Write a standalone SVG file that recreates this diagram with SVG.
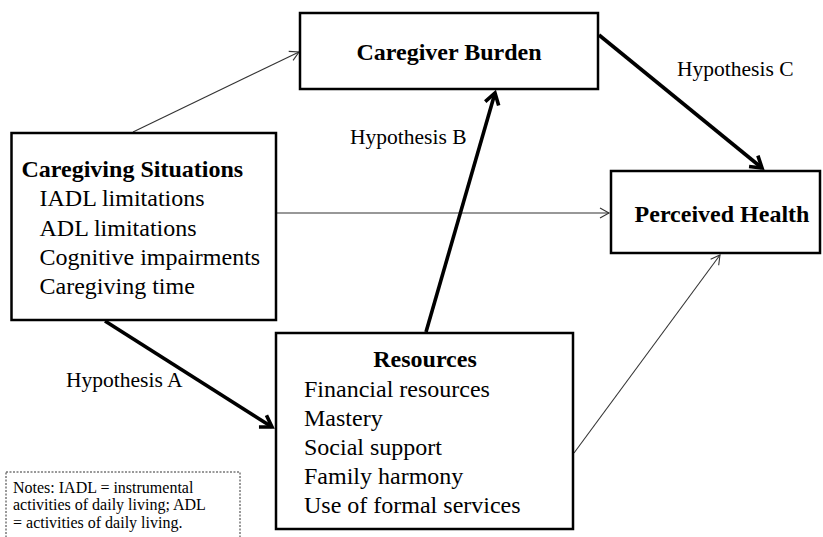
<svg xmlns="http://www.w3.org/2000/svg" width="823" height="537" viewBox="0 0 823 537">
<style>
.box{fill:#fff;stroke:#000;stroke-width:2.5}
text{font-family:'Liberation Serif','Times New Roman',serif;fill:#000}
.t{font-size:24px}
.b{font-weight:bold}
.h{font-size:21.5px}
.n{font-size:16px}
.thin{stroke:#333;stroke-width:1.1;fill:none;marker-end:url(#ah)}
.thick{stroke:#000;stroke-width:3.6;fill:none;marker-end:url(#ahb)}
</style>
<defs>
<marker id="ah" markerUnits="userSpaceOnUse" viewBox="-12 -8 14 16" markerWidth="14" markerHeight="16" refX="0" refY="0" orient="auto">
<path d="M-9,-5 L0,0 L-9,5" fill="none" stroke="#333" stroke-width="1.1"/>
</marker>
<marker id="ahb" markerUnits="userSpaceOnUse" viewBox="-14 -10 18 20" markerWidth="18" markerHeight="20" refX="0" refY="0" orient="auto">
<path d="M-11,-7 L0,0 L-11,7" fill="none" stroke="#000" stroke-width="3.6" stroke-linejoin="miter"/>
</marker>
</defs>
<g id="connectors">
<line class="thin" x1="133" y1="132" x2="299" y2="52"/>
<line class="thin" x1="277" y1="213" x2="609" y2="213"/>
<line class="thin" x1="574" y1="453" x2="720" y2="255"/>
<line class="thick" x1="105" y1="321" x2="272" y2="427"/>
<line class="thick" x1="426" y1="332" x2="495" y2="93"/>
<line class="thick" x1="599" y1="35" x2="762" y2="168"/>
</g>
<g id="caregiving-situations">
<rect class="box" x="11.5" y="133" width="264.5" height="187"/>
<text class="t b" x="21.5" y="176.5">Caregiving Situations</text>
<text class="t" x="39.5" y="206">IADL limitations</text>
<text class="t" x="39.5" y="235.5">ADL limitations</text>
<text class="t" x="39.5" y="265">Cognitive impairments</text>
<text class="t" x="39.5" y="294">Caregiving time</text>
</g>
<g id="caregiver-burden">
<rect class="box" x="300" y="13" width="298" height="76"/>
<text class="t b" x="449" y="60" text-anchor="middle">Caregiver Burden</text>
</g>
<g id="perceived-health">
<rect class="box" x="611" y="171" width="209" height="82"/>
<text class="t b" x="722" y="222" text-anchor="middle">Perceived Health</text>
</g>
<g id="resources">
<rect class="box" x="276" y="333" width="297" height="196"/>
<text class="t b" x="425" y="367" text-anchor="middle">Resources</text>
<text class="t" x="304" y="397">Financial resources</text>
<text class="t" x="304" y="426">Mastery</text>
<text class="t" x="304" y="455">Social support</text>
<text class="t" x="304" y="484">Family harmony</text>
<text class="t" x="304" y="513">Use of formal services</text>
</g>
<g id="labels">
<text class="h" x="66" y="387">Hypothesis A</text>
<text class="h" x="350" y="144">Hypothesis B</text>
<text class="h" x="677" y="76">Hypothesis C</text>
</g>
<g id="notes">
<rect x="6" y="472" width="234" height="70" fill="#fff" stroke="#333" stroke-width="1" stroke-dasharray="2 1.5"/>
<text class="n" x="13" y="492.5">Notes: IADL = instrumental</text>
<text class="n" x="13" y="510">activities of daily living; ADL</text>
<text class="n" x="13" y="527.5">= activities of daily living.</text>
</g>
</svg>
